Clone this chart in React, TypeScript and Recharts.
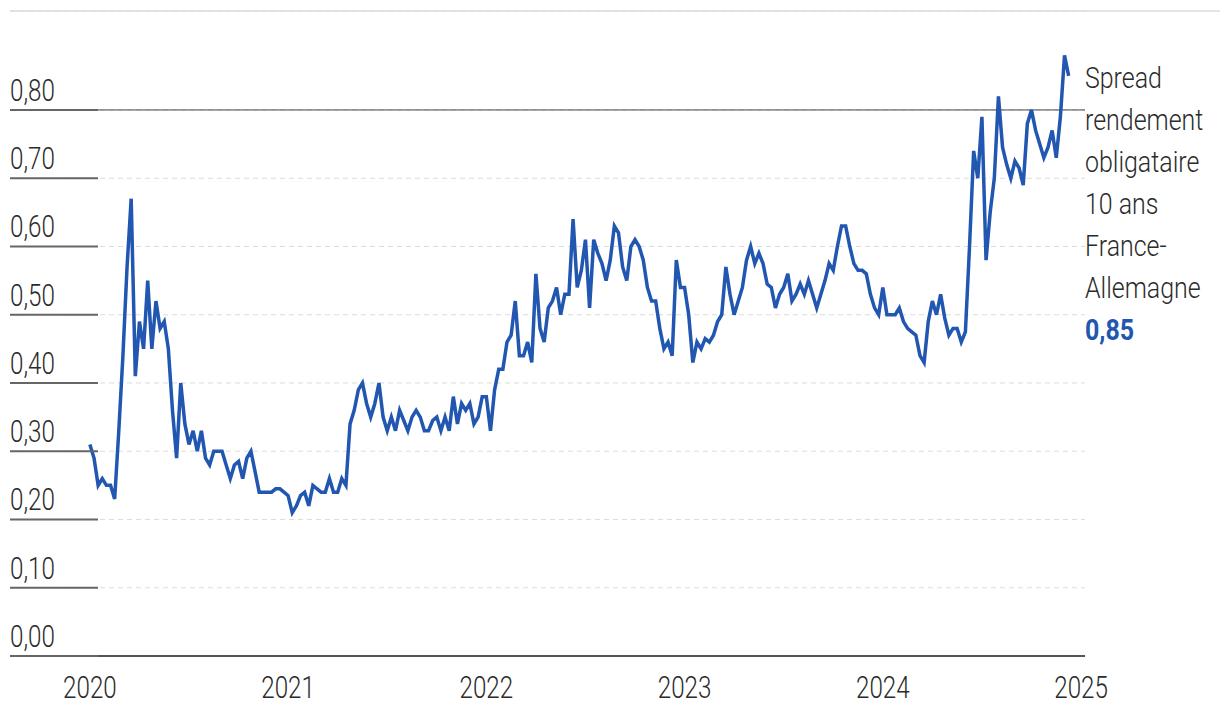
import { LineChart, Line, XAxis, YAxis, CartesianGrid, ReferenceLine } from "recharts";

// weekly readings (4 per month), one array per year
const values2020 = [
  0.31, 0.29, 0.25, 0.26, 0.25, 0.25, 0.23, 0.33, 0.44, 0.57, 0.67, 0.41,
  0.49, 0.45, 0.55, 0.45, 0.52, 0.48, 0.49, 0.45, 0.36, 0.29, 0.40, 0.34,
  0.31, 0.33, 0.30, 0.33, 0.29, 0.28, 0.30, 0.30, 0.30, 0.28, 0.26, 0.28,
  0.285, 0.26, 0.29, 0.30, 0.27, 0.24, 0.24, 0.24, 0.24, 0.245, 0.245, 0.24,
];
const values2021 = [
  0.235, 0.21, 0.22, 0.235, 0.24, 0.22, 0.25, 0.245, 0.24, 0.24, 0.26, 0.24,
  0.24, 0.26, 0.25, 0.34, 0.36, 0.39, 0.40, 0.37, 0.35, 0.37, 0.40, 0.35,
  0.33, 0.35, 0.33, 0.36, 0.345, 0.33, 0.35, 0.36, 0.35, 0.33, 0.33, 0.345,
  0.35, 0.33, 0.35, 0.33, 0.38, 0.34, 0.37, 0.36, 0.37, 0.34, 0.35, 0.38,
];
const values2022 = [
  0.38, 0.33, 0.39, 0.42, 0.42, 0.46, 0.47, 0.52, 0.44, 0.44, 0.46, 0.43,
  0.56, 0.48, 0.46, 0.51, 0.52, 0.54, 0.50, 0.53, 0.53, 0.64, 0.54, 0.565,
  0.61, 0.51, 0.61, 0.59, 0.575, 0.55, 0.58, 0.63, 0.62, 0.57, 0.55, 0.60,
  0.61, 0.60, 0.58, 0.54, 0.52, 0.52, 0.48, 0.45, 0.46, 0.44, 0.58, 0.54,
];
const values2023 = [
  0.54, 0.50, 0.43, 0.46, 0.45, 0.465, 0.46, 0.47, 0.49, 0.50, 0.57, 0.53,
  0.50, 0.52, 0.54, 0.58, 0.60, 0.575, 0.59, 0.575, 0.545, 0.54, 0.51, 0.53,
  0.54, 0.56, 0.52, 0.53, 0.545, 0.53, 0.55, 0.53, 0.51, 0.53, 0.55, 0.575,
  0.565, 0.60, 0.63, 0.63, 0.60, 0.575, 0.565, 0.565, 0.56, 0.53, 0.51, 0.50,
];
const values2024 = [
  0.54, 0.50, 0.50, 0.50, 0.51, 0.49, 0.48, 0.475, 0.47, 0.44, 0.43, 0.49,
  0.52, 0.50, 0.53, 0.495, 0.47, 0.48, 0.48, 0.46, 0.475, 0.60, 0.74, 0.70,
  0.79, 0.58, 0.65, 0.70, 0.82, 0.745, 0.72, 0.70, 0.725, 0.715, 0.69, 0.78,
  0.80, 0.77, 0.75, 0.73, 0.745, 0.77, 0.73, 0.79, 0.88, 0.85,
];

const years = [2020, 2021, 2022, 2023, 2024];
const seriesByYear = [values2020, values2021, values2022, values2023, values2024];
const yearTicks = [2020, 2021, 2022, 2023, 2024, 2025];
const valueTicks = [0, 0.1, 0.2, 0.3, 0.4, 0.5, 0.6, 0.7, 0.8];
const seriesLabel = ["Spread", "rendement", "obligataire", "10 ans", "France-", "Allemagne"];
const lastValue = "0,85";

const data = seriesByYear.flatMap((vals, k) =>
  vals.map((v, i) => ({ t: years[k] + i / 48, v }))
);

const FONT = "Roboto, 'Noto Sans', sans-serif";
const BLUE = "#2156b1";
const TEXT = "#2b2b2b";
const SQUEEZE = 0.78;

const fmt = (v: number) => v.toFixed(2).replace(".", ",");

const YTick = ({ y, payload }: any) => (
  <g>
    <line x1={10} x2={98} y1={y} y2={y} stroke="#666" strokeWidth={2} />
    <text
      transform={`translate(10, ${y - 9}) scale(${SQUEEZE}, 1)`}
      fontSize={31}
      fontWeight={300}
      fill={TEXT}
      fontFamily={FONT}
    >
      {fmt(payload.value)}
    </text>
  </g>
);

const XTick = ({ x, y, payload }: any) => (
  <text
    transform={`translate(${x}, ${y + 34}) scale(${SQUEEZE}, 1)`}
    textAnchor="middle"
    fontSize={31}
    fontWeight={300}
    fill={TEXT}
    fontFamily={FONT}
  >
    {payload.value}
  </text>
);

const App = () => {
  return (
    <div style={{ position: "absolute", left: 0, top: 0, width: 1220, height: 718, background: "#fff" }}>
      <div style={{ position: "absolute", left: 10, top: 10, width: 1210, height: 2, background: "#e4e4e4" }} />
      <LineChart
        width={1220}
        height={718}
        data={data}
        margin={{ top: 11, right: 135, left: 0, bottom: 0 }}
      >
        <CartesianGrid vertical={false} stroke="#dcdcdc" strokeDasharray="5 4" />
        <XAxis
          dataKey="t"
          type="number"
          domain={[2019.597, 2025.02]}
          ticks={yearTicks}
          axisLine={false}
          tickLine={false}
          height={62}
          tick={<XTick />}
          interval={0}
        />
        <YAxis
          type="number"
          domain={[0, 0.945]}
          ticks={valueTicks}
          width={10}
          axisLine={false}
          tickLine={false}
          tick={<YTick />}
          interval={0}
        />
        <ReferenceLine y={0.8} stroke="#444" strokeWidth={1} />
        <ReferenceLine y={0} stroke="#555" strokeWidth={2} />
        <Line
          type="linear"
          dataKey="v"
          stroke={BLUE}
          strokeWidth={3.5}
          dot={false}
          isAnimationActive={false}
        />
      </LineChart>
      <div
        style={{
          position: "absolute",
          left: 1085,
          top: 57,
          fontFamily: FONT,
          fontSize: 29,
          fontWeight: 300,
          lineHeight: "42px",
          color: TEXT,
          transform: "scaleX(0.86)",
          transformOrigin: "left top",
          whiteSpace: "nowrap",
        }}
      >
        {seriesLabel.map((s) => (
          <div key={s}>{s}</div>
        ))}
        <div style={{ color: BLUE, fontWeight: 700 }}>{lastValue}</div>
      </div>
    </div>
  );
};

export default App;
